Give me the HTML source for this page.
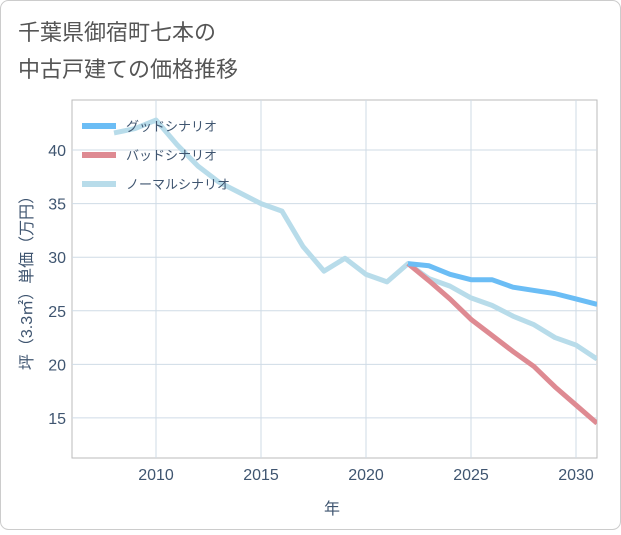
<!DOCTYPE html>
<html><head><meta charset="utf-8"><style>
body{margin:0;background:#fff;}
svg text{font-family:"Liberation Sans","Noto Sans CJK JP",sans-serif;}
</style></head><body>
<svg width="621" height="530" viewBox="0 0 621 530">
<rect x="0.5" y="0.5" width="620" height="529" rx="8" fill="#fff" stroke="#ccc"/>
<text x="18" y="40" font-size="22" fill="#555">千葉県御宿町七本の</text>
<text x="18" y="77" font-size="22" fill="#555">中古戸建ての価格推移</text>
<g id="grid"></g>
<g id="series"></g>
<g id="legend"></g>
<text x="332" y="514" font-size="16" fill="#3f5570" text-anchor="middle">年</text>
<text transform="translate(32,279) rotate(-90)" font-size="16" fill="#3f5570" text-anchor="middle">坪（3.3㎡）単価（万円）</text>
</svg>
<script>
const xTicks=[2010,2015,2020,2025,2030];
const yTicks=[15,20,25,30,35,40];
const normalYears=[2008,2009,2010,2011,2012,2013,2014,2015,2016,2017,2018,2019,2020,2021,2022,2023,2024,2025,2026,2027,2028,2029,2030,2031];
const normalVals=[41.6,42,42.8,40.5,38.5,37,36,35,34.3,31,28.7,29.9,28.4,27.7,29.4,28,27.3,26.2,25.5,24.5,23.7,22.5,21.8,20.5];
const futureYears=[2022,2023,2024,2025,2026,2027,2028,2029,2030,2031];
const goodVals=[29.4,29.2,28.4,27.9,27.9,27.2,26.9,26.6,26.1,25.6];
const badVals=[29.4,27.8,26.1,24.2,22.7,21.2,19.8,17.9,16.2,14.5];
const L=72,R=597,T=100,B=458,X0=2006,X1=2031,Y0=11.26,Y1=44.67;
const xs=v=>L+(v-X0)/(X1-X0)*(R-L);
const ys=v=>B-(v-Y0)/(Y1-Y0)*(B-T);
const NS="http://www.w3.org/2000/svg";
function mk(tag,attrs,parent){const e=document.createElementNS(NS,tag);for(const k in attrs)e.setAttribute(k,attrs[k]);parent.appendChild(e);return e;}
const grid=document.getElementById('grid');
const pa=mk('rect',{x:L,y:T,width:R-L,height:B-T,fill:'#fff',stroke:'#bbb'},grid);


xTicks.forEach(t=>{
 const l=mk('line',{x1:xs(t),x2:xs(t),y1:T,y2:B,stroke:'#cfdbe6'},grid);
 
 
 const tx=mk('text',{x:xs(t),y:B+22,'font-size':16,fill:'#3f5570','text-anchor':'middle'},grid);tx.textContent=t;
 
 
});
yTicks.forEach(t=>{
 const l=mk('line',{x1:L,x2:R,y1:ys(t),y2:ys(t),stroke:'#cfdbe6'},grid);
 
 
 const tx=mk('text',{x:L-6,y:ys(t)+6,'font-size':16,fill:'#3f5570','text-anchor':'end'},grid);tx.textContent=t;
 
 
});
const ser=document.getElementById('series');
const clip=mk('clipPath',{id:'c'},ser);mk('rect',{x:L,y:T,width:R-L,height:B-T},clip);
function line(yrs,vals,color,name){
 const p=mk('polyline',{points:yrs.map((y,i)=>xs(y)+','+ys(vals[i])).join(' '),fill:'none',stroke:color,'stroke-width':5,'stroke-linejoin':'round','clip-path':'url(#c)'},ser);
 
 
}
line(normalYears,normalVals,'#b8dcea','normal-scenario-line');
line(futureYears,badVals,'#de8a92','bad-scenario-line');
line(futureYears,goodVals,'#6bbdf5','good-scenario-line');
const lg=document.getElementById('legend');
[['グッドシナリオ','#6bbdf5'],['バッドシナリオ','#de8a92'],['ノーマルシナリオ','#b8dcea']].forEach((d,i)=>{
 const y=126+i*29;
 const s=mk('line',{x1:82,x2:116,y1:y,y2:y,stroke:d[1],'stroke-width':6},lg);
 
 
 const t=mk('text',{x:126,y:y+5,'font-size':13,fill:'#3f5570'},lg);t.textContent=d[0];
 
 
});
</script>
</body></html>
